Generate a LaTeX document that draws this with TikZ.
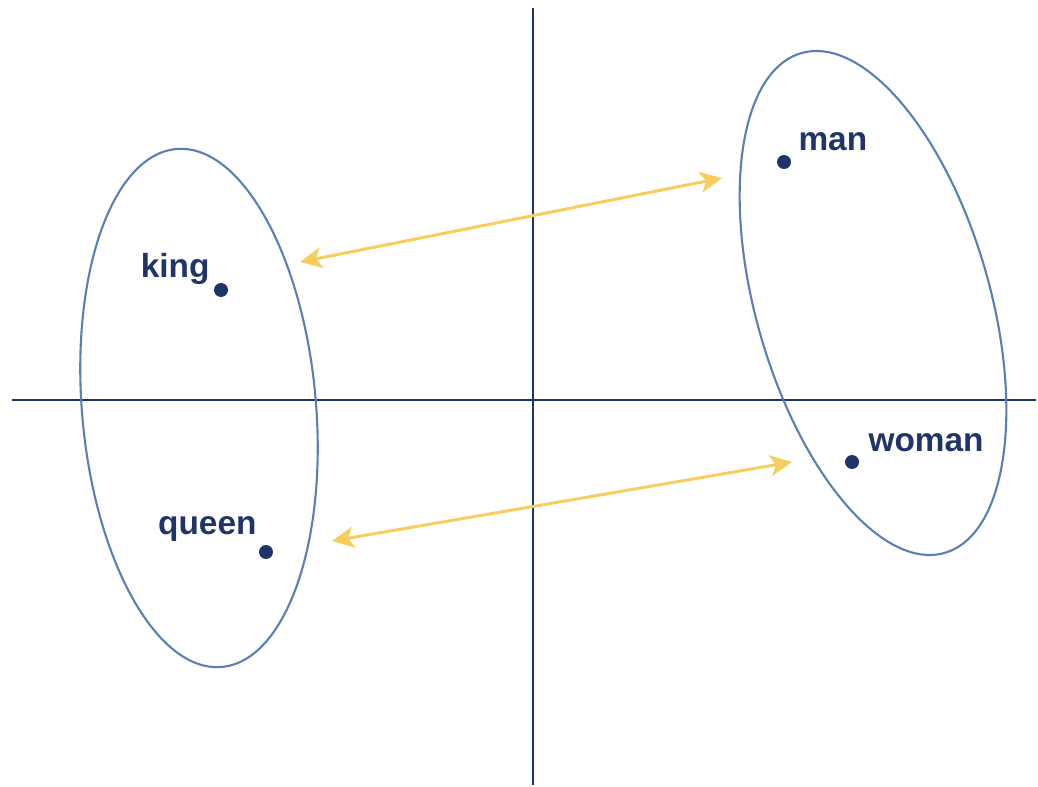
\documentclass[tikz,border=0pt]{standalone}
\usepackage{fontspec}
\setmainfont{Liberation Sans}
\usepackage{tikz}
\usetikzlibrary{arrows.meta,positioning,shapes.geometric}
\usepackage{xcolor}
\definecolor{wvnavy}{HTML}{1F3468}
\definecolor{wvblue}{HTML}{5B7FB5}
\definecolor{wvgold}{HTML}{F7CD5E}
\tikzset{
  wvaxis/.style={draw=wvnavy, line width=1.2pt},
  wvcluster/.style={draw=wvblue, ellipse, line width=1.2pt, inner sep=0pt,
    minimum width=4.68cm, minimum height=10.4cm},
  wvdot/.style={circle, fill=wvnavy, inner sep=0pt, minimum size=0.28cm},
  wvlabel/.style={inner sep=0pt, font=\fontsize{19}{22}\selectfont\bfseries, text=wvnavy},
  wvarrow/.style={{Stealth[length=4.4mm, width=4.2mm, inset=1.2mm]}-{Stealth[length=4.4mm, width=4.2mm, inset=1.2mm]},
    draw=wvgold, line width=1.7pt},
}

\begin{document}
\begin{tikzpicture}[x=0.02cm, y=-0.02cm]
  \useasboundingbox (0,0) rectangle (1038,787);

  % Axes
  \coordinate (ytop) at (533,8);
  \coordinate (ybot) at (533,785);
  \coordinate (xleft) at (12,400);
  \coordinate (xright) at (1036,400);
  \draw[wvaxis] (ytop) -- (ybot);
  \draw[wvaxis] (xleft) -- (xright);

  % Clusters
  \node[wvcluster, rotate=5] (royal) at (199,408) {};
  \node[wvcluster, rotate=16] (common) at (873,303) {};

  % Words
  \node[wvdot] (king) at (221,290) {};
  \node[wvdot] (queen) at (266,552) {};
  \node[wvdot] (man) at (784,162) {};
  \node[wvdot] (woman) at (852,462) {};
  \node[wvlabel, above left=0cm and 0.12cm of king] (kinglbl) {king};
  \node[wvlabel, above left=0.1cm and 0.08cm of queen] (queenlbl) {queen};
  \node[wvlabel, above right=0.12cm and 0.18cm of man] (manlbl) {man};
  \node[wvlabel, above right=0.1cm and 0.22cm of woman] (womanlbl) {woman};

  % Analogy arrows
  \coordinate (maleL) at (300,262);
  \coordinate (maleR) at (722,178);
  \coordinate (femL) at (332,541);
  \coordinate (femR) at (792,462);
  \draw[wvarrow] (maleL) -- (maleR);
  \draw[wvarrow] (femL) -- (femR);
\end{tikzpicture}
\end{document}
